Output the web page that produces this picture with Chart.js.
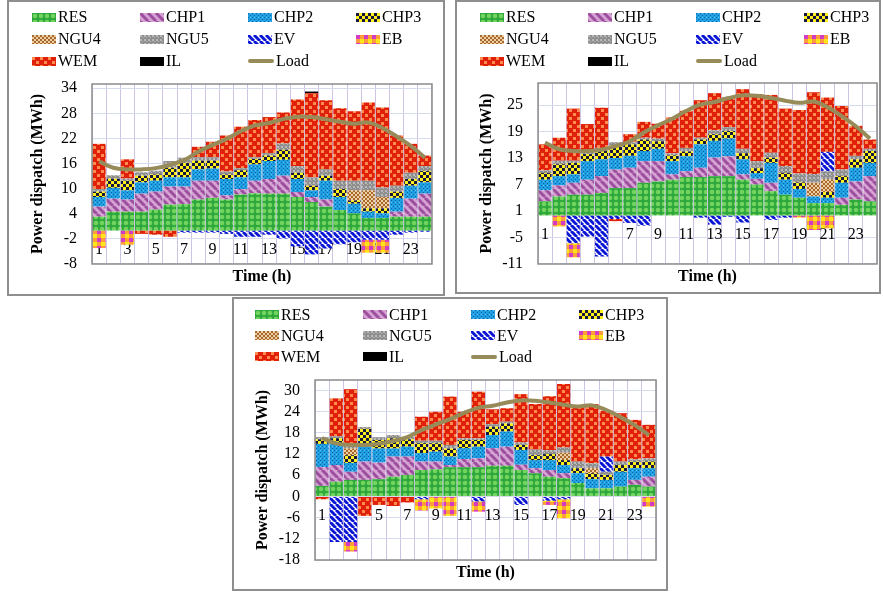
<!DOCTYPE html>
<html>
<head>
<meta charset="utf-8">
<script src="https://cdn.jsdelivr.net/npm/chart.js@4.4.1/dist/chart.umd.min.js"></script>
<style>
  html, body { margin: 0; padding: 0; background: #fff; }
  body { width: 883px; height: 593px; position: relative; overflow: hidden;
         font-family: 'Liberation Serif', 'Times New Roman', serif; }
  .frame { position: absolute; box-sizing: border-box; border: 2px solid #8e8e8e; }
  .legend { position: absolute; display: grid; grid-template-columns: repeat(4, 108px);
            font-size: 16px; color: #000; line-height: 1; }
  .item { display: flex; align-items: center; white-space: nowrap; }
  .sw { display: inline-block; width: 24px; height: 9px; margin-right: 2px; flex: none; }
  .sw.line { width: 26px; height: 4px; border-radius: 2px; }
  canvas { position: absolute; }
</style>
</head>
<body>
<script>
// ---- categories and ticks ----
const hours = ['1','2','3','4','5','6','7','8','9','10','11','12','13','14','15','16','17','18','19','20','21','22','23','24'];
const shownHours = ['1','3','5','7','9','11','13','15','17','19','21','23'];
const ticksA = [-8, -2, 4, 10, 16, 22, 28, 34];
const ticksB = [-11, -5, 1, 7, 13, 19, 25];
const ticksC = [-18, -12, -6, 0, 6, 12, 18, 24, 30];
const seriesNames = ['RES','CHP1','CHP2','CHP3','NGU4','NGU5','EV','EB','WEM','IL'];

// ---- load profile (MWh) ----
const load = [16.5,15.0,14.6,14.6,14.9,15.7,16.8,18.8,20.4,21.9,23.7,25.1,25.7,26.6,27.2,27.1,26.6,26.0,25.5,25.8,24.5,22.5,20.2,17.4];

// ---- dispatch, case A ----
const aRES  = [3.3,4.5,4.5,4.5,5.0,6.2,6.3,7.4,7.8,7.4,8.6,8.9,8.8,8.8,8.0,6.8,5.7,4.9,4.1,3.0,3.0,3.3,3.3,3.3];
const aCHP1 = [2.4,3.1,2.9,4.3,4.3,4.3,4.2,4.5,4.1,1.0,1.3,3.0,3.5,4.3,1.2,1.2,1.7,0,0,0,0,1.2,4.3,5.5];
const aCHP2 = [2.3,2.6,2.2,2.7,2.6,2.2,2.2,2.7,2.9,3.9,2.8,3.9,4.3,3.8,3.1,1.6,4.5,3.1,2.3,1.5,1.1,3.3,3.1,2.7];
const aCHP3 = [1.3,2.2,2.3,1.6,1.5,2.3,3.5,2.1,1.9,1.1,1.7,1.3,1.3,2.4,1.5,1.1,1.2,1.9,0.8,0.8,1.2,1.5,1.6,2.7];
const aNGU4 = [0,0,0,0,0,0,0,0,0,0,0,0,0,0,0,0,0,0,2.4,4.3,2.7,0,0,0];
const aNGU5 = [0.6,0.8,0.5,0.8,0.9,1.6,1.2,0.8,0.8,0.7,0.5,0.4,0.6,1.5,1.6,2.0,1.5,2.0,2.3,2.3,2.3,1.4,1.5,1.2];
const aEV   = [0,0,0,0,0,0,-0.5,-0.5,-0.5,-0.8,-1.5,-1.5,-1.0,-1.9,-3.8,-5.7,-4.3,-3.3,-2.8,-2.2,-2.2,-1.0,-0.5,-0.3];
const aEB   = [-4.2,0,-3.4,0,0,0,0,0,0,0,0,0,0,0,0,0,0,0,0,-3.1,-3.1,0,0,0];
const aWEM  = [10.8,0,4.6,-0.8,-1.0,-1.5,0,2.5,3.7,8.6,9.9,8.9,8.6,7.4,15.9,20.1,16.5,17.3,16.6,18.7,19.1,12.0,6.9,2.5];
const aIL   = [0,0,0,0,0,0,0,0,0,0,0,0,0,0,0,0.4,0,0,0,0,0,0,0,0];

// ---- dispatch, case B ----
const bRES  = [3.2,4.3,4.7,4.7,5.1,6.2,6.2,7.4,7.7,8.1,8.7,8.7,8.9,8.9,8.1,7.0,5.5,4.7,4.0,2.8,2.8,2.4,3.6,3.2];
const bCHP1 = [2.5,2.5,2.7,3.4,3.8,4.2,4.6,4.9,4.6,1.2,1.3,2.1,4.2,4.5,1.2,1.3,1.9,0,0,0,0,1.6,4.1,5.7];
const bCHP2 = [2.4,2.1,1.9,4.2,3.8,2.6,2.7,2.3,2.8,3.0,3.4,5.3,3.8,4.0,3.4,1.3,4.5,3.4,2.0,1.5,1.2,3.4,3.1,3.0];
const bCHP3 = [1.5,2.7,2.6,1.6,2.0,2.7,2.6,2.6,1.7,1.3,1.1,1.1,1.5,1.7,1.4,1.1,1.2,1.5,1.5,0,1.3,1.5,1.9,2.7];
const bNGU4 = [0,0,0,0,0,0,0,0,0,0,0,0,0,0,0,0,0,0,0,3.1,2.9,0,0,0];
const bNGU5 = [0.6,0.8,0.5,0.5,0.6,0.9,0.5,0.4,0.6,0.5,0.8,0.4,0.9,0.9,1.0,1.6,1.1,1.6,2.0,2.0,1.8,1.5,0.8,0.5];
const bEV   = [0,0,-6.3,-4.8,-9.3,-0.8,-1.7,-2.3,0,0,0,-0.5,-2.1,-0.3,-1.6,0,-1.0,-0.5,0,0,4.4,0,0,0];
const bEB   = [0,-2.5,-3.2,0,0,0,0,0,0,0,0,0,0,0,0,0,0,0,-0.5,-3.3,-2.9,0,0,0];
const bWEM  = [5.9,5.2,11.8,6.3,9.1,-0.5,1.8,3.6,3.4,8.1,8.4,8.5,8.4,6.7,13.5,15.2,13.1,13.0,14.4,18.5,12.3,14.4,6.8,2.1];
const bIL   = [0,0,0,0,0,0,0,0,0,0,0,0,0,0,0,0,0,0,0,0,0,0,0,0];

// ---- dispatch, case C ----
const cRES  = [3.0,4.2,4.7,4.7,4.9,5.6,6.1,7.5,7.7,8.3,8.3,8.3,8.7,8.7,7.5,6.6,5.6,5.2,3.8,2.3,2.3,2.8,3.3,2.8];
const cCHP1 = [5.3,4.7,2.3,5.2,4.7,5.7,5.2,2.4,2.2,0.6,2.3,2.5,5.0,5.4,1.5,1.4,1.9,1.4,0,0,0,0,1.4,2.8];
const cCHP2 = [6.6,6.2,2.5,4.2,4.0,2.3,2.8,2.4,2.8,2.4,3.1,3.3,3.7,4.3,4.2,2.3,2.8,2.3,2.8,2.6,2.4,4.2,3.3,2.4];
const cCHP3 = [1.3,1.4,2.2,5.1,2.4,2.9,2.1,2.8,2.4,2.3,2.3,1.9,2.4,2.3,1.4,1.4,1.7,1.4,1.4,1.7,1.4,1.9,1.9,1.9];
const cNGU4 = [0,0,1.9,0,0,0,0,0,0,0,0,0,0,0,0,0,0,2.1,0,1.4,0,0,0,0];
const cNGU5 = [0.6,0.6,1.4,0.5,0.8,0.9,0.7,0.7,0.7,1.0,0.5,0.5,0.7,0.5,0.7,1.6,1.1,1.5,1.9,1.4,0.9,1.0,0.6,0.9];
const cEV   = [0,-12.9,-12.9,0,0,0,0,-0.8,0,0,0,-1.4,0,0,-2.4,0,-1.2,-0.8,0,0,4.3,0,0,0];
const cEB   = [0,0,-2.7,0,0,0,0,-3.2,-3.4,-5.5,0,-2.9,0,0,0,0,-1.2,-5.4,0,0,0,0,0,-2.9];
const cWEM  = [-0.8,10.7,15.4,-5.5,-2.4,-2.7,-1.7,6.8,8.2,13.7,7.5,13.2,4.2,3.8,13.7,12.9,15.3,18.0,16.0,16.8,13.0,13.7,11.2,9.5];
const cIL   = [0,0,0,0,0,0,0,0,0,0,0,0,0,0,0,0,0,0,0,0,0,0,0,0];

// ---- fill patterns ----
function tile(w, h, draw) {
  const c = document.createElement('canvas');
  c.width = w; c.height = h;
  draw(c.getContext('2d'), w, h);
  return c;
}
function stripes(bg, fg, size, lw) {
  return tile(size, size, g => {
    g.fillStyle = bg; g.fillRect(0, 0, size, size);
    g.strokeStyle = fg; g.lineWidth = lw;
    for (const o of [-size, 0, size]) {
      g.beginPath(); g.moveTo(o, 0); g.lineTo(o + size, size); g.stroke();
    }
  });
}
function checker(a, b, cell, inner) {
  const s = inner || cell;
  return tile(cell * 2, cell * 2, g => {
    g.fillStyle = a; g.fillRect(0, 0, cell * 2, cell * 2);
    g.fillStyle = b; g.fillRect(0, 0, s, s); g.fillRect(cell, cell, s, s);
  });
}
const tiles = {
  RES: tile(6, 6, g => {
    g.fillStyle = '#2ea83c'; g.fillRect(0, 0, 6, 6);
    g.fillStyle = '#72d45f'; g.beginPath(); g.arc(3, 3, 2.3, 0, Math.PI * 2); g.fill();
  }),
  CHP1: stripes('#d6a2d4', '#9b4f9d', 8, 3),
  CHP2: tile(4, 4, g => {
    g.fillStyle = '#1f9fe2'; g.fillRect(0, 0, 4, 4);
    g.fillStyle = '#0b62a6'; g.fillRect(0, 0, 1, 1); g.fillRect(2, 2, 1, 1);
    g.fillStyle = '#5ac4f2'; g.fillRect(2, 0, 1, 1);
  }),
  CHP3: checker('#fff21a', '#161640', 3),
  NGU4: checker('#ecd0a4', '#a9692c', 2),
  NGU5: tile(4, 4, g => {
    g.fillStyle = '#8e8e8e'; g.fillRect(0, 0, 4, 4);
    g.fillStyle = '#b9b9b9'; g.fillRect(0, 0, 2, 2); g.fillRect(2, 2, 1, 1);
  }),
  EV: stripes('#ffffff', '#0a16d4', 6, 3),
  EB: tile(8, 8, g => {
    g.fillStyle = '#ff9d3a'; g.fillRect(0, 0, 8, 8);
    g.fillStyle = '#d23cc4'; g.fillRect(0, 0, 4, 4);
    g.fillStyle = '#ffe61a'; g.fillRect(4, 4, 4, 4);
  }),
  WEM: checker('#e0200a', '#ff8c4c', 4, 3),
  IL: tile(2, 2, g => { g.fillStyle = '#000'; g.fillRect(0, 0, 2, 2); })
};
const loadColor = '#978b5a';

// ---- panel layout (page pixels) ----
const panels = [
  { frame: [7, 0, 438, 296], legend: [32, 6, 22], canvas: [9, 70, 434, 222], area: [92, 84, 432, 264],
    timeY: 277, yTitleX: 38, min: -8, max: 35, ticks: ticksA,
    series: [aRES, aCHP1, aCHP2, aCHP3, aNGU4, aNGU5, aEV, aEB, aWEM, aIL] },
  { frame: [455, 0, 426, 294], legend: [480, 6, 22], canvas: [457, 69, 422, 222], area: [538, 83, 877, 264],
    timeY: 277, yTitleX: 487, min: -11, max: 30, ticks: ticksB,
    series: [bRES, bCHP1, bCHP2, bCHP3, bNGU4, bNGU5, bEV, bEB, bWEM, bIL] },
  { frame: [232, 297, 436, 294], legend: [255, 304, 21], canvas: [234, 366, 432, 222], area: [315, 380, 656, 560],
    timeY: 573, yTitleX: 263, min: -18, max: 33, ticks: ticksC,
    series: [cRES, cCHP1, cCHP2, cCHP3, cNGU4, cNGU5, cEV, cEB, cWEM, cIL] }
];

const FONT = "'Liberation Serif', 'Times New Roman', serif";

const plotFrame = {
  id: 'plotFrame',
  afterDatasetsDraw(chart) {
    const { ctx, chartArea: a } = chart;
    ctx.save();
    ctx.strokeStyle = '#8c8c8c';
    ctx.lineWidth = 1.5;
    ctx.strokeRect(a.left, a.top, a.right - a.left, a.bottom - a.top);
    ctx.restore();
  }
};

function addBox(cls, l, t, w, h) {
  const d = document.createElement('div');
  d.className = cls;
  Object.assign(d.style, { left: l + 'px', top: t + 'px', width: w + 'px', height: h + 'px' });
  document.body.appendChild(d);
  return d;
}

function buildLegend(p, datasets) {
  const lg = document.createElement('div');
  lg.className = 'legend';
  lg.style.left = p.legend[0] + 'px';
  lg.style.top = p.legend[1] + 'px';
  lg.style.gridAutoRows = p.legend[2] + 'px';
  datasets.forEach(ds => {
    const it = document.createElement('div');
    it.className = 'item';
    const sw = document.createElement('span');
    if (ds.type === 'line') {
      sw.className = 'sw line';
      sw.style.background = ds.borderColor;
    } else {
      sw.className = 'sw';
      sw.style.backgroundImage = 'url(' + tiles[ds.label].toDataURL() + ')';
    }
    const tx = document.createElement('span');
    tx.textContent = ds.label;
    it.appendChild(sw); it.appendChild(tx);
    lg.appendChild(it);
  });
  document.body.appendChild(lg);
}

panels.forEach(p => {
  const [fl, ft, fw, fh] = p.frame;
  addBox('frame', fl, ft, fw, fh);

  const [cl, ct, cw, ch] = p.canvas;
  const [al, at, ar, ab] = p.area;
  const cv = document.createElement('canvas');
  cv.width = cw; cv.height = ch;
  cv.style.left = cl + 'px'; cv.style.top = ct + 'px';
  document.body.appendChild(cv);
  const ctx = cv.getContext('2d');

  const datasets = seriesNames.map((name, i) => ({
    type: 'bar',
    label: name,
    data: p.series[i],
    backgroundColor: ctx.createPattern(tiles[name], 'repeat'),
    borderWidth: 0,
    categoryPercentage: 0.93,
    barPercentage: 1,
    order: 1
  }));
  datasets.push({
    type: 'line',
    label: 'Load',
    data: load,
    borderColor: loadColor,
    backgroundColor: loadColor,
    borderWidth: 4,
    pointRadius: 0,
    tension: 0.4,
    fill: false,
    order: 0
  });

  buildLegend(p, datasets);

  const titleLine = 19.2;
  const titlePadTop = p.timeY - ab - titleLine / 2;
  const padBottom = (ct + ch) - (ab + titlePadTop + titleLine);
  const yWidth = al - cl;
  const yTitlePad = p.yTitleX - cl - titleLine / 2;

  new Chart(cv, {
    type: 'bar',
    data: { labels: hours, datasets },
    plugins: [plotFrame],
    options: {
      responsive: false,
      animation: false,
      devicePixelRatio: 1,
      layout: { padding: { left: 0, top: at - ct, right: (cl + cw) - ar, bottom: padBottom } },
      plugins: {
        legend: { display: false },
        tooltip: { enabled: false },
        title: {
          display: true, text: 'Time (h)', position: 'bottom', fullSize: false,
          color: '#000', font: { family: FONT, size: 16, weight: 'bold', lineHeight: 1.2 },
          padding: { top: titlePadTop, bottom: 0 }
        }
      },
      scales: {
        x: {
          stacked: true,
          position: { y: 0 },
          offset: true,
          grid: { color: '#cdc4e4', lineWidth: 1, drawTicks: false, offset: true },
          border: { display: false },
          ticks: {
            autoSkip: false, maxRotation: 0, minRotation: 0, padding: 9.5,
            color: '#000', font: { family: FONT, size: 16 },
            callback: (v, i) => shownHours.includes(hours[i]) ? hours[i] : ''
          },
          afterFit: s => { s.paddingLeft = 0; s.paddingRight = 0; s.paddingTop = 0; s.paddingBottom = 0; }
        },
        y: {
          stacked: true,
          min: p.min, max: p.max,
          grid: { color: '#d6dcee', lineWidth: 1, drawTicks: false },
          border: { display: false },
          ticks: { autoSkip: false, padding: 15, color: '#000', font: { family: FONT, size: 16 } },
          afterBuildTicks: s => { s.ticks = p.ticks.map(v => ({ value: v })); },
          afterFit: s => { s.width = yWidth; s.paddingTop = 0; s.paddingBottom = 0; },
          title: {
            display: true, text: 'Power dispatch (MWh)', color: '#000',
            font: { family: FONT, size: 16, weight: 'bold', lineHeight: 1.2 },
            padding: { top: yTitlePad, bottom: 0 }
          }
        }
      }
    }
  });
});
</script>
</body>
</html>
